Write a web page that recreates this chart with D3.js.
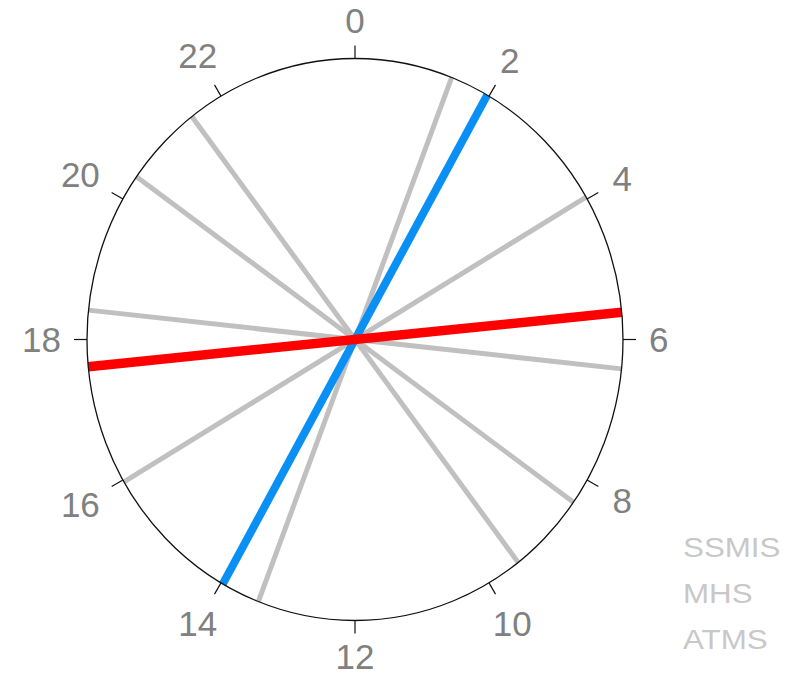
<!DOCTYPE html>
<html>
<head>
<meta charset="utf-8">
<script src="https://cdn.jsdelivr.net/npm/d3@7"></script>
<style>
  html, body { margin: 0; padding: 0; background: #ffffff; }
  svg { display: block; }
  text { font-family: "Liberation Sans", Arial, Helvetica, sans-serif; }
</style>
</head>
<body>
<svg id="chart" width="805" height="677"></svg>
<script>
// Local time of equator crossing (hours) for each orbit; each orbit is drawn
// as a line through the centre, joining its ascending and descending node.
const hourTicks = [0, 2, 4, 6, 8, 10, 12, 14, 16, 18, 20, 22];
const grayOrbitHours = [1.41, 3.97, 6.40, 8.36, 9.50];
const blueOrbitHours = [1.97];
const redOrbitHours = [5.63];
const legendLabels = ["SSMIS", "MHS", "ATMS"];

const width = 805, height = 677;
const svg = d3.select("#chart");
const cx = 355, cy = 339.5;
const rx = 268, ry = 281;
const tickLen = 13;

// Clock angle: 0 h at top, increasing clockwise, full turn = 24 h
const angle = d3.scaleLinear().domain([0, 24]).range([0, 2 * Math.PI]);
// Radial scale (fraction of the dial) for each axis of the dial
const radX = d3.scaleLinear().domain([0, 1]).range([0, rx]);
const radY = d3.scaleLinear().domain([0, 1]).range([0, ry]);

function pt(h, k, extra = 0) {
  const a = angle(h);
  return [cx + (radX(k) + extra) * Math.sin(a), cy - (radY(k) + extra) * Math.cos(a)];
}

const lineGen = d3.line();

function drawOrbits(hours, color, w, cls) {
  svg.append("g").attr("class", cls)
    .selectAll("path")
    .data(hours)
    .join("path")
    .attr("d", h => lineGen([pt(h, 1), pt(h + 12, 1)]))
    .attr("fill", "none")
    .attr("stroke", color)
    .attr("stroke-width", w)
    .attr("stroke-linecap", "butt");
}

drawOrbits(grayOrbitHours, "#c0c0c0", 5, "orbits-gray");
drawOrbits(blueOrbitHours, "#0a8ff5", 8, "orbits-blue");
drawOrbits(redOrbitHours, "#ff0000", 9.5, "orbits-red");

// Dial outline
svg.append("ellipse")
  .attr("cx", cx).attr("cy", cy)
  .attr("rx", rx).attr("ry", ry)
  .attr("fill", "none")
  .attr("stroke", "#111")
  .attr("stroke-width", 1.3);

// Hour ticks
svg.append("g").attr("class", "ticks")
  .selectAll("path")
  .data(hourTicks)
  .join("path")
  .attr("d", h => lineGen([pt(h, 1), pt(h, 1, tickLen)]))
  .attr("stroke", "#111")
  .attr("stroke-width", 1.2);

// Hour labels, pushed outward past the tick by their own extent
const fontSize = 35;
const capHalf = fontSize * 0.716 / 2;
const descent = fontSize * 0.22;
const labels = svg.append("g").attr("class", "hour-labels")
  .selectAll("text")
  .data(hourTicks)
  .join("text")
  .attr("font-size", fontSize)
  .attr("fill", "#808080")
  .attr("text-anchor", "middle")
  .text(d => d);

labels.each(function (h) {
  const w = this.getComputedTextLength();
  const a = angle(h);
  const s = Math.sin(a), c = Math.cos(a);
  const [ex, ey] = pt(h, 1, tickLen);
  const off = 13 + (w / 2) * Math.abs(s) + capHalf * Math.abs(c);
  const x = ex + off * s;
  const y = ey - off * c;
  // keep the label's box inside the drawing
  const baseline = Math.min(y + capHalf, height - descent - 0.5);
  d3.select(this).attr("x", x).attr("y", baseline);
});

// Legend text
const legendY = d3.scalePoint().domain(legendLabels).range([557, 649]);
svg.append("g").attr("class", "legend")
  .selectAll("text")
  .data(legendLabels)
  .join("text")
  .attr("transform", d => `translate(683,${legendY(d)}) scale(1.16,1)`)
  .attr("font-size", 27)
  .attr("fill", "#c8c8c8")
  .text(d => d);
</script>
</body>
</html>
